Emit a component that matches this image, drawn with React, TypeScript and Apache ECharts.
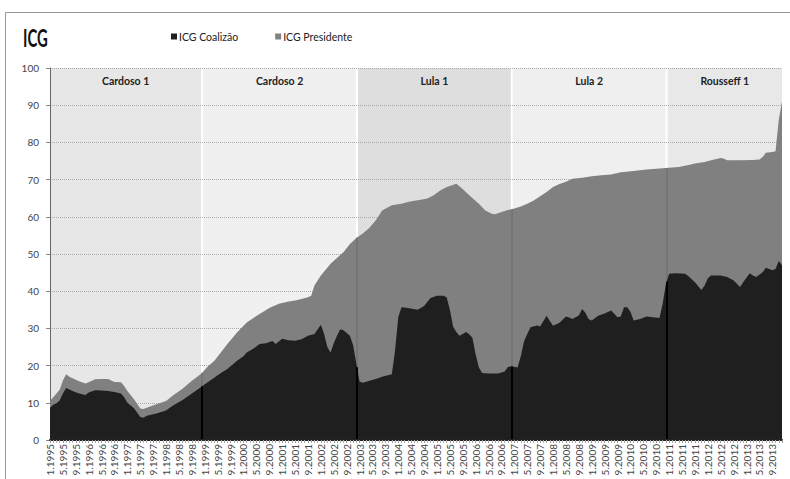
import React, { useEffect, useRef } from 'react';
import * as echarts from 'echarts';

// ---- data ----
const terms = ['Cardoso 1', 'Cardoso 2', 'Lula 1', 'Lula 2', 'Rousseff 1'];
const termStartMonth = [0, 48, 96, 144, 192]; // months since 1.1995
const firstYear = 1995;
const lastMonth = 227; // 12.2013

// [month index since 1.1995, value]
const coalizao: [number, number][] = [
  [0, 8.7], [1, 9.5], [2, 9.9], [3, 10.6], [4, 12.5], [5, 14.0], [6, 13.6], [7, 13.2], [9, 12.5], [11, 12.1],
  [12, 12.8], [14, 13.4], [16, 13.3], [18, 13.2], [20, 12.9], [22, 12.5], [23, 11.5], [24, 10.0], [26, 8.6],
  [28, 6.2], [29, 6.0], [30, 6.5], [33, 7.1], [36, 7.9], [38, 9.2], [41, 10.7], [44, 12.5], [47, 14.3],
  [48, 15.0], [51, 16.8], [53, 18.0], [55, 19.1], [58, 21.3], [60, 22.5], [61, 23.5], [63, 24.5], [65, 25.8],
  [67, 26.0], [69, 26.6], [70, 25.8], [72, 27.2], [74, 26.8], [76, 26.7], [78, 27.1], [80, 28.0], [82, 28.5],
  [84, 31.0], [85, 28.5], [86, 25.0], [87, 23.5], [88, 26.0], [89, 28.0], [90, 29.8], [91, 29.5], [93, 28.0],
  [94, 25.5], [95, 20.5], [96, 15.7], [97, 15.4], [101, 16.4], [103, 17.0], [106, 17.7], [107, 24.0],
  [108, 33.0], [109, 35.7], [111, 35.5], [114, 35.0], [116, 36.0], [118, 38.2], [120, 38.8], [122, 38.8],
  [123, 38.4], [124, 35.0], [125, 30.5], [126, 29.0], [127, 28.0], [128, 28.5], [129, 29.0], [130, 28.4],
  [131, 27.5], [132, 23.0], [133, 19.5], [134, 18.0], [136, 17.9], [139, 17.9], [141, 18.4], [142, 19.6],
  [143, 19.8], [145, 19.5], [146, 22.5], [147, 26.5], [148, 28.5], [149, 30.3], [151, 30.8], [152, 30.5],
  [154, 33.4], [155, 32.0], [156, 30.7], [158, 31.5], [160, 33.2], [161, 32.9], [162, 32.5], [164, 33.5],
  [165, 35.2], [166, 34.3], [167, 32.5], [168, 32.1], [170, 33.4], [172, 34.0], [174, 34.8], [176, 33.0],
  [177, 33.2], [178, 35.7], [179, 35.7], [180, 34.5], [181, 32.1], [183, 32.5], [185, 33.2], [187, 33.0],
  [189, 32.8], [190, 36.6], [191, 42.0], [192, 44.7], [194, 44.8], [197, 44.7], [198, 44.0], [200, 42.4],
  [202, 40.3], [203, 41.5], [204, 43.5], [205, 44.2], [208, 44.2], [210, 43.8], [212, 42.9], [214, 41.1],
  [215, 42.5], [217, 44.8], [218, 44.2], [219, 43.8], [221, 45.1], [222, 46.3], [223, 46.0], [224, 45.6],
  [225, 46.0], [226, 48.1], [227, 47.0],
];

const presidente: [number, number][] = [
  [0, 10.5], [1, 11.5], [2, 12.5], [3, 13.5], [4, 16.0], [5, 17.7], [6, 17.0], [7, 16.6], [9, 15.8], [11, 15.2],
  [12, 15.5], [14, 16.3], [16, 16.4], [18, 16.4], [20, 15.6], [22, 15.5], [23, 14.5], [24, 13.2], [26, 11.0],
  [28, 8.5], [29, 8.3], [30, 8.7], [33, 9.6], [36, 10.5], [38, 11.9], [41, 13.7], [44, 15.9], [47, 17.9],
  [49, 19.8], [51, 21.3], [55, 25.8], [58, 28.9], [61, 31.6], [65, 33.9], [68, 35.5], [71, 36.6], [74, 37.2],
  [76, 37.5], [78, 37.9], [80, 38.4], [81, 38.8], [82, 41.5], [84, 44.2], [87, 47.4], [91, 50.5], [93, 52.7],
  [95, 54.3], [97, 55.5], [99, 57.0], [101, 59.0], [103, 61.7], [106, 63.1], [109, 63.5], [111, 64.0],
  [113, 64.3], [115, 64.6], [117, 64.9], [119, 65.8], [121, 67.1], [123, 68.0], [124, 68.3], [126, 68.9],
  [128, 67.5], [130, 65.8], [133, 63.5], [135, 61.7], [137, 60.8], [138, 60.7], [140, 61.3], [142, 61.8],
  [144, 62.2], [146, 62.8], [148, 63.5], [150, 64.4], [152, 65.5], [154, 66.7], [156, 68.0], [158, 68.8],
  [160, 69.4], [162, 70.2], [165, 70.5], [168, 70.9], [171, 71.2], [174, 71.4], [177, 72.0], [181, 72.3],
  [185, 72.7], [189, 73.0], [192, 73.2], [195, 73.4], [198, 73.9], [200, 74.3], [203, 74.7], [205, 75.2],
  [208, 75.8], [209, 75.6], [210, 75.2], [214, 75.2], [218, 75.3], [220, 75.4], [221, 76.1], [222, 77.2],
  [224, 77.4], [225, 77.6], [226, 86.0], [227, 91.0],
];

// ---- style ----
const FONT = "Lato, 'Open Sans', 'Liberation Sans', sans-serif";
const bandColors = ['#e7e7e7', '#f0f0f0', '#dedede', '#efefef', '#e8e8e8'];
const sepOffset = -0.8;
const gapHalf = 0.3;

function valueAt(pts: [number, number][], x: number): number {
  for (let i = 0; i < pts.length - 1; i++) {
    const [x0, y0] = pts[i];
    const [x1, y1] = pts[i + 1];
    if (x >= x0 && x <= x1) return y0 + ((y1 - y0) * (x - x0)) / (x1 - x0);
  }
  return pts[pts.length - 1][1];
}

function monthLabel(v: number): string {
  const m = Math.round(v);
  return `${(m % 12) + 1}.${firstYear + Math.floor(m / 12)}`;
}

export default function App() {
  const ref = useRef<HTMLDivElement>(null);
  useEffect(() => {
    if (!ref.current) return;
    const chart = echarts.init(ref.current, null, { renderer: 'svg' });
    const seps = termStartMonth.slice(1).map((m) => m + sepOffset);
    const bands = terms.map((name, i) => {
      const start = i === 0 ? 0 : termStartMonth[i] + sepOffset + gapHalf;
      const end = i === terms.length - 1 ? lastMonth : termStartMonth[i + 1] + sepOffset - gapHalf;
      return [
        { name, xAxis: start, yAxis: 100, itemStyle: { color: bandColors[i], opacity: 1 } },
        { xAxis: end, yAxis: 0 },
      ];
    });
    const presLines = seps.map((x) => [{ coord: [x, 0] }, { coord: [x, valueAt(presidente, x)] }]);
    const coalLines = seps.map((x) => [{ coord: [x, 0] }, { coord: [x, valueAt(coalizao, x)] }]);

    chart.setOption({
      animation: false,
      backgroundColor: '#ffffff',
      textStyle: { fontFamily: FONT },
      legend: {
        data: ['ICG Coalizão', 'ICG Presidente'],
        left: 171,
        top: 31,
        padding: 0,
        icon: 'rect',
        itemWidth: 6,
        itemHeight: 6,
        itemGap: 37,
        textStyle: { fontSize: 10.5, color: '#222', fontFamily: FONT, padding: [0, 0, 0, -3] },
      },
      grid: { left: 50, right: 8, top: 68, bottom: 39, containLabel: false, outerBoundsMode: 'none' },
      xAxis: {
        type: 'value',
        min: 0,
        max: lastMonth,
        interval: 4,
        z: 10,
        axisLine: { show: true, lineStyle: { color: '#222', width: 2 } },
        axisTick: { show: true, length: 3, lineStyle: { color: '#999' } },
        minorTick: { show: true, splitNumber: 4, length: 3, lineStyle: { color: '#aaa' } },
        splitLine: { show: false },
        axisLabel: {
          rotate: 90,
          fontSize: 10,
          color: '#444',
          margin: 4,
          showMaxLabel: false,
          fontFamily: FONT,
          formatter: (v: number) => monthLabel(v),
        },
      },
      yAxis: {
        type: 'value',
        min: 0,
        max: 100,
        interval: 10,
        z: 2,
        axisLine: { show: true, lineStyle: { color: '#666', width: 1 } },
        axisTick: { show: true, length: 4, lineStyle: { color: '#888' } },
        splitLine: { show: true, lineStyle: { color: '#aaa', type: 'dotted', width: 1 } },
        axisLabel: { fontSize: 10, color: '#444', margin: 11, fontFamily: FONT },
      },
      series: [
        {
          name: 'ICG Presidente',
          type: 'line',
          data: presidente,
          symbol: 'none',
          showSymbol: false,
          z: 5,
          itemStyle: { color: '#808080' },
          lineStyle: { width: 0, color: '#808080' },
          areaStyle: { color: '#808080', opacity: 1 },
          markArea: {
            z: 1,
            silent: true,
            label: {
              show: true,
              position: 'insideTop',
              distance: 7,
              fontSize: 10.5,
              fontWeight: 'bold',
              color: '#222',
              fontFamily: FONT,
            },
            data: bands,
          },
          markLine: {
            z: 5.5,
            silent: true,
            symbol: ['none', 'none'],
            label: { show: false },
            lineStyle: { color: '#727272', width: 1.5, type: 'solid' },
            data: presLines,
          },
        },
        {
          name: 'ICG Coalizão',
          type: 'line',
          data: coalizao,
          symbol: 'none',
          showSymbol: false,
          z: 6,
          itemStyle: { color: '#1f1f1f' },
          lineStyle: { width: 0, color: '#1f1f1f' },
          areaStyle: { color: '#1f1f1f', opacity: 1 },
          markLine: {
            z: 7,
            silent: true,
            symbol: ['none', 'none'],
            label: { show: false },
            lineStyle: { color: '#000', width: 2, type: 'solid' },
            data: coalLines,
          },
        },
      ],
      graphic: [
        {
          type: 'text',
          x: 23,
          y: 25,
          scaleX: 0.62,
          silent: true,
          style: {
            text: 'ICG',
            fontSize: 24,
            fontWeight: 'bold',
            fontFamily: FONT,
            fill: '#111',
            verticalAlign: 'top',
          },
        },
        {
          type: 'rect',
          silent: true,
          z: 100,
          shape: { x: 5.5, y: 12.5, width: 800, height: 500 },
          style: { fill: 'none', stroke: '#999', lineWidth: 1 },
        },
      ],
    });
    return () => chart.dispose();
  }, []);
  return (
    <div
      ref={ref}
      style={{ position: 'absolute', left: 0, top: 0, width: 790, height: 479 }}
    />
  );
}
